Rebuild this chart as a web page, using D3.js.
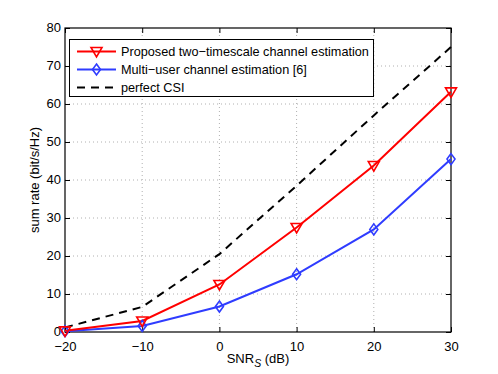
<!DOCTYPE html>
<html lang="en">
<head>
<meta charset="UTF-8">
<title>Sum rate vs SNR</title>
<script src="https://d3js.org/d3.v7.min.js"></script>
<style>
  body { margin: 0; background: #fff; }
  text { font-family: "Liberation Sans", Arial, sans-serif; }
</style>
</head>
<body>
<svg></svg>
<script>
var width = 498, height = 374;
var margin = {left: 65, right: 47, top: 28, bottom: 42};

var snr = [-20, -10, 0, 10, 20, 30];
var proposed = [0.3, 2.9, 12.5, 27.5, 43.8, 63.2];
var multiUser = [0.2, 1.6, 6.7, 15.2, 27.0, 45.5];
var perfectCSI = [1.2, 6.6, 20.5, 38.5, 57.0, 75.0];
var xTicks = [-20, -10, 0, 10, 20, 30];
var yTicks = [0, 10, 20, 30, 40, 50, 60, 70, 80];
var legendLabels = ["Proposed two\u2212timescale channel estimation", "Multi\u2212user channel estimation [6]", "perfect CSI"];

var svg = d3.select("svg").attr("width", width).attr("height", height);

var xScale = d3.scaleLinear().domain([-20, 30]).range([margin.left, width - margin.right]);
var yScale = d3.scaleLinear().domain([0, 80]).range([height - margin.bottom, margin.top]);

var x0 = xScale.range()[0], x1 = xScale.range()[1];
var y0 = yScale.range()[0], y1 = yScale.range()[1];

// dotted grid
svg.append("g").selectAll("line").data(xTicks.slice(1, -1)).enter().append("line")
    .attr("x1", function (d) { return xScale(d); }).attr("x2", function (d) { return xScale(d); })
    .attr("y1", y0).attr("y2", y1)
    .attr("stroke", "#b0b0b0").attr("stroke-width", 1).attr("stroke-dasharray", "1,3");
svg.append("g").selectAll("line").data(yTicks.slice(1, -1)).enter().append("line")
    .attr("y1", function (d) { return yScale(d); }).attr("y2", function (d) { return yScale(d); })
    .attr("x1", x0).attr("x2", x1)
    .attr("stroke", "#b0b0b0").attr("stroke-width", 1).attr("stroke-dasharray", "1,3");

// axes (ticks inward)
var xAxis = d3.axisBottom(xScale).tickValues(xTicks).tickSizeInner(-5).tickSizeOuter(0)
    .tickFormat(function (d) { return d < 0 ? "\u2212" + Math.abs(d) : d; });
var gx = svg.append("g").attr("transform", "translate(0," + y0 + ")").call(xAxis);
gx.selectAll("text").attr("y", 9.5).attr("dy", "0.71em").style("font-size", "13px").attr("fill", "#000");

var yAxis = d3.axisLeft(yScale).tickValues(yTicks).tickSizeInner(-5).tickSizeOuter(0);
var gy = svg.append("g").attr("transform", "translate(" + x0 + ",0)").call(yAxis);
gy.selectAll("text").attr("x", -4).attr("dy", "0.3em").style("font-size", "13px").attr("fill", "#000");

var gt = svg.append("g").attr("transform", "translate(0," + y1 + ")")
    .call(d3.axisTop(xScale).tickValues(xTicks).tickSizeInner(-5).tickSizeOuter(0).tickFormat(""));
var gr = svg.append("g").attr("transform", "translate(" + x1 + ",0)")
    .call(d3.axisRight(yScale).tickValues(yTicks).tickSizeInner(-5).tickSizeOuter(0).tickFormat(""));
[gx, gy, gt, gr].forEach(function (g) {
    g.select(".domain").remove();
    g.selectAll(".tick line").attr("stroke", "#000");
});

svg.append("rect").attr("x", x0).attr("y", y1).attr("width", x1 - x0).attr("height", y0 - y1)
    .attr("fill", "none").attr("stroke", "#000").attr("stroke-width", 1.2);

// lines
var line = d3.line().x(function (d) { return xScale(d[0]); }).y(function (d) { return yScale(d[1]); });
function pairs(vals) { return snr.map(function (s, i) { return [s, vals[i]]; }); }

svg.append("path").datum(pairs(perfectCSI)).attr("d", line)
    .attr("fill", "none").attr("stroke", "#000").attr("stroke-width", 2).attr("stroke-dasharray", "8,6");
svg.append("path").datum(pairs(multiUser)).attr("d", line)
    .attr("fill", "none").attr("stroke", "#2f3cff").attr("stroke-width", 2);
svg.append("path").datum(pairs(proposed)).attr("d", line)
    .attr("fill", "none").attr("stroke", "#ff0000").attr("stroke-width", 2);

function triangle(cx, cy) {
    return "M" + (cx - 5.5) + "," + (cy - 4) + "L" + (cx + 5.5) + "," + (cy - 4) + "L" + cx + "," + (cy + 5.5) + "Z";
}
function diamond(cx, cy) {
    return "M" + cx + "," + (cy - 5.5) + "L" + (cx + 4) + "," + cy + "L" + cx + "," + (cy + 5.5) + "L" + (cx - 4) + "," + cy + "Z";
}

svg.append("g").selectAll("path").data(pairs(multiUser)).enter().append("path")
    .attr("d", function (d) { return diamond(xScale(d[0]), yScale(d[1])); })
    .attr("fill", "none").attr("stroke", "#2f3cff").attr("stroke-width", 1.6);
svg.append("g").selectAll("path").data(pairs(proposed)).enter().append("path")
    .attr("d", function (d) { return triangle(xScale(d[0]), yScale(d[1])); })
    .attr("fill", "none").attr("stroke", "#ff0000").attr("stroke-width", 1.6);

// legend
var lg = svg.append("g");
lg.append("rect").attr("x", 69.5).attr("y", 39.5).attr("width", 304).attr("height", 57)
    .attr("fill", "#fff").attr("stroke", "#000").attr("stroke-width", 1);
var legendColors = ["#ff0000", "#2f3cff", "#000"];
legendLabels.forEach(function (lab, i) {
    var ly = 51.5 + i * 18;
    lg.append("line").attr("x1", 77).attr("x2", 116).attr("y1", ly).attr("y2", ly)
        .attr("stroke", legendColors[i]).attr("stroke-width", 2)
        .attr("stroke-dasharray", i === 2 ? "8,6" : null);
    if (i === 0) lg.append("path").attr("d", triangle(96.5, ly)).attr("fill", "none").attr("stroke", "#ff0000").attr("stroke-width", 1.6);
    if (i === 1) lg.append("path").attr("d", diamond(96.5, ly)).attr("fill", "none").attr("stroke", "#2f3cff").attr("stroke-width", 1.6);
    lg.append("text").attr("x", 121).attr("y", ly).attr("dy", "0.35em")
        .style("font-size", "12.7px").text(lab);
});

// axis labels
var xl = svg.append("text").attr("x", (x0 + x1) / 2).attr("y", 363).attr("text-anchor", "middle")
    .style("font-size", "13px");
xl.append("tspan").text("SNR");
xl.append("tspan").attr("dy", 4).style("font-size", "10.5px").style("font-style", "italic").text("S");
xl.append("tspan").attr("dy", -4).text(" (dB)");

svg.append("text").attr("transform", "translate(39," + ((y0 + y1) / 2) + ") rotate(-90)")
    .attr("text-anchor", "middle").style("font-size", "13px").text("sum rate (bit/s/Hz)");
</script>
</body>
</html>
